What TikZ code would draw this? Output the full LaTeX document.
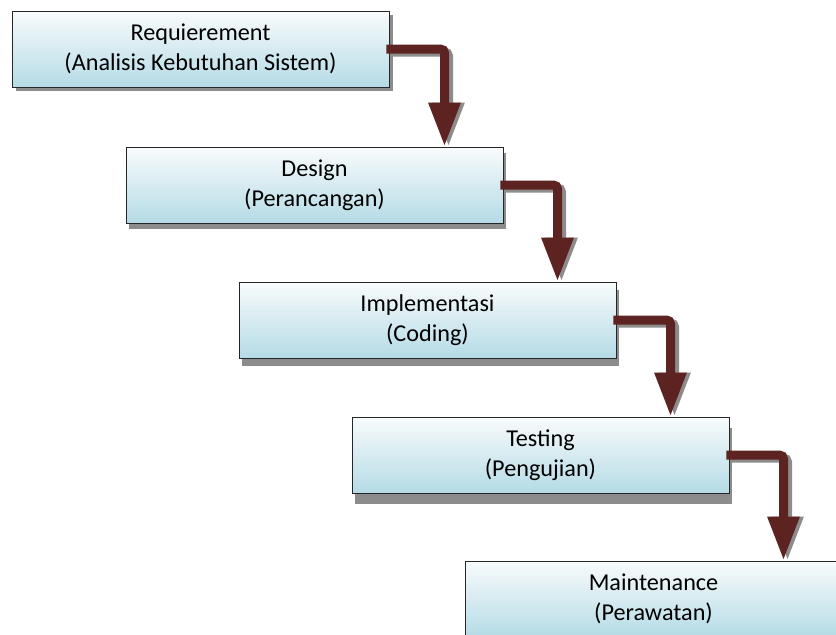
\documentclass[tikz,border=0pt]{standalone}
\usepackage{fontspec}
\setmainfont{Carlito}
\usetikzlibrary{arrows.meta,calc}
\definecolor{boxtop}{HTML}{F8FBFC}
\definecolor{boxbot}{HTML}{B5DBE6}
\definecolor{arrowred}{HTML}{5C2320}
\definecolor{shade}{HTML}{8C8C8C}
\tikzset{
  phase/.style={draw=black!85, line width=0.9pt, top color=boxtop, bottom color=boxbot,
    minimum width=377pt, minimum height=76pt, inner sep=0pt, align=center,
    font=\fontsize{24.2}{30}\selectfont, text=black},
  phaseshadow/.style={fill=shade, draw=none, minimum width=377pt, minimum height=76pt, inner sep=0pt},
  flow/.style={draw=arrowred, line width=9pt, rounded corners=4pt,
    -{Triangle[width=30pt,length=44pt,fill=arrowred]}},
  flowshadow/.style={draw=shade, line width=9pt, rounded corners=4pt,
    -{Triangle[width=30pt,length=44pt,fill=shade]}},
}
\begin{document}
\begin{tikzpicture}[x=1pt,y=-1pt]
\useasboundingbox (0,0) rectangle (836,635);
\clip (0,0) rectangle (836,635);
% drop shadows of the phase boxes
\foreach \i in {0,...,4}{
  \node[phaseshadow] at ({200.5+113*\i+4},{49+137.5*\i+4}) {};
}
% phase boxes
\node[phase] (b1) at (200.5,49)   {Requierement\\(Analisis Kebutuhan Sistem)};
\node[phase] (b2) at (314.5,185)  {Design\\(Perancangan)};
\node[phase] (b3) at (427.5,320)  {Implementasi\\(Coding)};
\node[phase] (b4) at (540.5,455)  {Testing\\(Pengujian)};
\node[phase] (b5) at (653.5,599)  {Maintenance\\(Perawatan)};
% connector shadows
\foreach \a/\b in {b1/b2,b2/b3,b3/b4,b4/b5}{
  \draw[flowshadow] ([shift={(1,3)}]\a.east) -| ([shift={(134,0)}]\b.north);
}
% connectors
\foreach \a/\b in {b1/b2,b2/b3,b3/b4,b4/b5}{
  \draw[flow] ([xshift=-3pt]\a.east) -| ([xshift=130pt]\b.north);
}
\end{tikzpicture}
\end{document}
